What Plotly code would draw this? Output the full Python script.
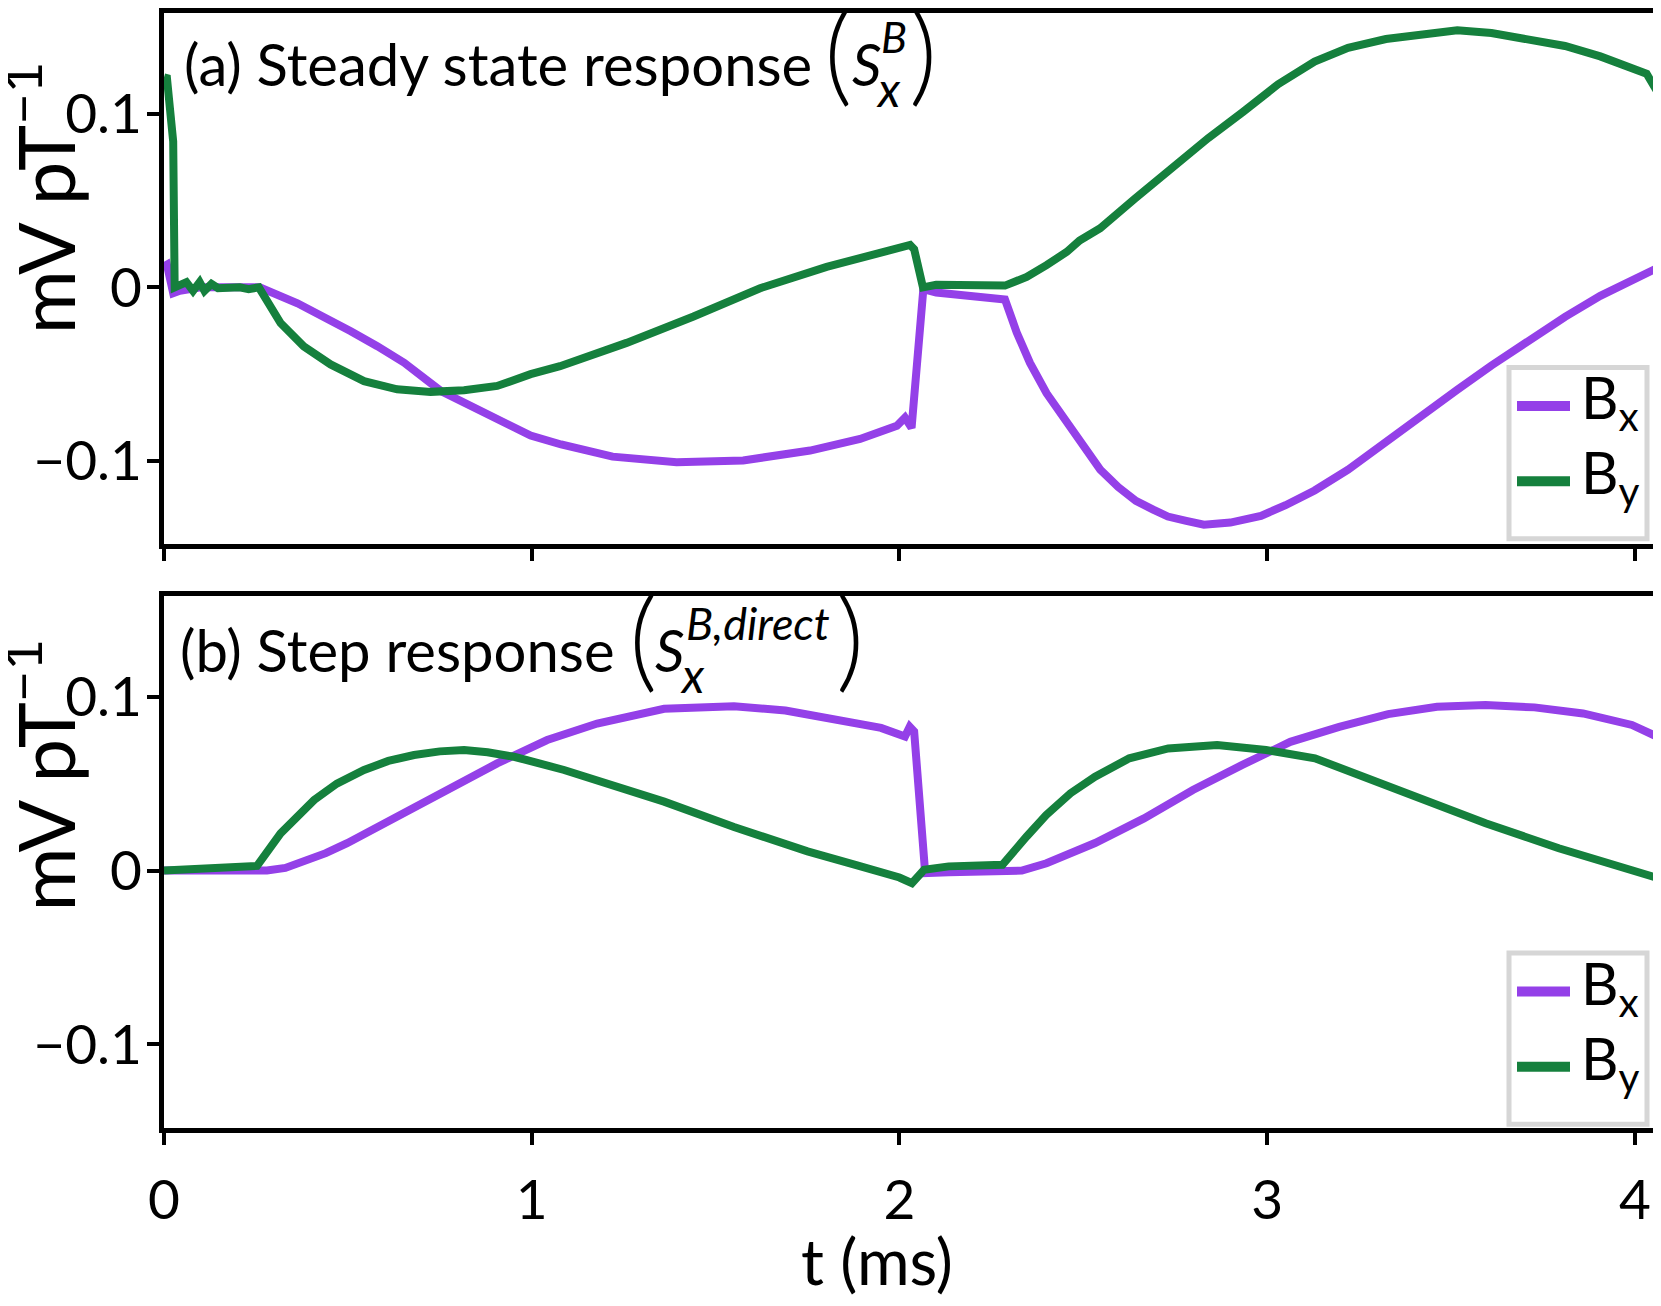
import plotly.graph_objects as go

# time axis (ms) and responses (mV/pT)
t_ss_bx = [0.0, 0.008, 0.025, 0.043, 0.1, 0.2, 0.26, 0.363, 0.435, 0.508, 0.58, 0.653, 0.753, 0.816,
           0.907, 0.997, 1.08, 1.22, 1.394, 1.575, 1.757, 1.893, 1.993, 2.015, 2.033, 2.065, 2.1, 2.15,
           2.2, 2.287, 2.319, 2.355, 2.4, 2.455, 2.49, 2.546, 2.595, 2.643, 2.69, 2.73, 2.78, 2.828, 2.9,
           2.983, 3.05, 3.129, 3.22, 3.323, 3.42, 3.517, 3.61, 3.712, 3.81, 3.906, 3.97, 4.042, 4.06]
ss_bx = [0.012, 0.013, -0.0034, -0.002, 0.0, 0.0, 0.0, -0.0092, -0.0168, -0.0253, -0.0339, -0.0434,
         -0.0597, -0.0665, -0.076, -0.0854, -0.0905, -0.0975, -0.1007, -0.0997, -0.094, -0.0873, -0.0797,
         -0.075, -0.081, -0.001, -0.003, -0.004, -0.005, -0.007, -0.026, -0.0435, -0.061, -0.078, -0.088,
         -0.105, -0.115, -0.123, -0.128, -0.132, -0.1345, -0.1367, -0.1355, -0.1316, -0.1255, -0.117,
         -0.105, -0.0887, -0.074, -0.059, -0.045, -0.0305, -0.017, -0.0049, 0.002, 0.0094, 0.011]

t_ss_by = [0.0, 0.008, 0.025, 0.029, 0.061, 0.079, 0.097, 0.11, 0.129, 0.147, 0.206, 0.23, 0.258, 0.29,
           0.317, 0.38, 0.453, 0.544, 0.634, 0.725, 0.816, 0.906, 0.997, 1.077, 1.258, 1.44, 1.621, 1.802,
           1.983, 2.015, 2.029, 2.04, 2.064, 2.1, 2.2, 2.287, 2.32, 2.346, 2.4, 2.455, 2.49, 2.546, 2.64,
           2.74, 2.84, 2.934, 3.03, 3.129, 3.22, 3.323, 3.42, 3.517, 3.61, 3.712, 3.81, 3.906, 3.97, 4.032,
           4.06]
ss_by = [0.121, 0.1205, 0.084, 0.0, 0.003, -0.002, 0.003, -0.002, 0.002, -0.0005, 0.0, -0.001, 0.0,
         -0.011, -0.0206, -0.034, -0.0444, -0.054, -0.0587, -0.0602, -0.0593, -0.0568, -0.05, -0.0454,
         -0.032, -0.0168, -0.0005, 0.0118, 0.0214, 0.023, 0.0244, 0.022, 0.0, 0.0015, 0.0015, 0.001,
         0.0038, 0.006, 0.0128, 0.0204, 0.027, 0.034, 0.051, 0.0686, 0.086, 0.101, 0.117, 0.13, 0.138,
         0.143, 0.146, 0.148, 0.1465, 0.143, 0.139, 0.133, 0.128, 0.123, 0.113]

t_st_bx = [0.0, 0.1, 0.2, 0.28, 0.33, 0.38, 0.44, 0.498, 0.634, 0.77, 0.906, 1.042, 1.178, 1.36, 1.45,
           1.55, 1.69, 1.82, 1.95, 2.015, 2.028, 2.04, 2.07, 2.134, 2.25, 2.333, 2.4, 2.532, 2.665, 2.798,
           2.931, 3.063, 3.196, 3.329, 3.462, 3.594, 3.727, 3.859, 3.992, 4.06]
st_bx = [0.0, 0.0, 0.0, 0.0, 0.0015, 0.0052, 0.010, 0.0157, 0.031, 0.0473, 0.0616, 0.075, 0.0845, 0.093,
         0.094, 0.0945, 0.092, 0.087, 0.082, 0.077, 0.0827, 0.08, -0.0015, -0.001, 0.0, 0.0, 0.0042,
         0.0158, 0.03, 0.0463, 0.0606, 0.074, 0.0826, 0.0899, 0.0942, 0.0951, 0.0938, 0.0903, 0.0837, 0.077]

t_st_by = [0.0, 0.1, 0.253, 0.317, 0.36, 0.408, 0.47, 0.544, 0.61, 0.68, 0.75, 0.816, 0.88, 0.952, 1.088,
           1.224, 1.36, 1.55, 1.75, 1.885, 2.0, 2.034, 2.067, 2.134, 2.28, 2.346, 2.399, 2.465, 2.532,
           2.625, 2.731, 2.864, 2.997, 3.13, 3.262, 3.395, 3.594, 3.793, 3.925, 4.06]
st_by = [0.0, 0.0008, 0.0027, 0.0214, 0.031, 0.0405, 0.050, 0.0578, 0.063, 0.0664, 0.0685, 0.0693,
         0.068, 0.0654, 0.0578, 0.0492, 0.0396, 0.025, 0.011, 0.003, -0.004, -0.0073, 0.0004, 0.0024,
         0.0033, 0.0196, 0.0319, 0.0444, 0.054, 0.0645, 0.0702, 0.0721, 0.0693, 0.0645, 0.054, 0.0425,
         0.0272, 0.0128, 0.0042, -0.0042]

x_ticks = [0, 1, 2, 3, 4]
y_ticks = [-0.1, 0, 0.1]
y_ticktext = ['\u22120.1', '0', '0.1']

PURPLE = '#9440e8'
GREEN = '#15803d'
FONT = 'Lato'

# the page body has an 8px margin, so the figure is made 8px smaller and
# all positions below are given in page pixels
OFF = 8
W, H = 1661 - OFF, 1306 - OFF
PLOT_L, PLOT_R, PLOT_T, PLOT_B = 164, 1654, OFF, 1128
L, R, T, B = PLOT_L - OFF, W - (PLOT_R - OFF), 0, H - (PLOT_B - OFF)


def px(x):
    return (x - PLOT_L) / (PLOT_R - PLOT_L)


def py(y):
    return (PLOT_B - y) / (PLOT_B - PLOT_T)


def text(x, y, s, size, anchor='left', angle=0, weight=400):
    return dict(x=px(x), y=py(y), xref='paper', yref='paper', text=s, showarrow=False,
                xanchor=anchor, yanchor='middle', textangle=angle,
                font=dict(family=FONT, size=size, color='black', weight=weight))


def main():
    fig = go.Figure()
    fig.add_trace(go.Scatter(x=t_ss_bx, y=ss_bx, mode='lines', line=dict(color=PURPLE, width=8),
                             xaxis='x', yaxis='y'))
    fig.add_trace(go.Scatter(x=t_ss_by, y=ss_by, mode='lines', line=dict(color=GREEN, width=8),
                             xaxis='x', yaxis='y'))
    fig.add_trace(go.Scatter(x=t_st_bx, y=st_bx, mode='lines', line=dict(color=PURPLE, width=8),
                             xaxis='x2', yaxis='y2'))
    fig.add_trace(go.Scatter(x=t_st_by, y=st_by, mode='lines', line=dict(color=GREEN, width=8),
                             xaxis='x2', yaxis='y2'))

    axis_common = dict(showline=True, mirror=True, linecolor='black', linewidth=5, showgrid=False,
                       zeroline=False, ticks='outside', ticklen=12, tickwidth=4, tickcolor='black',
                       tickfont=dict(family=FONT, size=55, color='black'))
    top_dom = [py(541.7), 1.0]
    bot_dom = [0.0, py(593.3)]
    fig.update_layout(
        width=W, height=H, margin=dict(l=L, r=R, t=T, b=B),
        plot_bgcolor='white', paper_bgcolor='white', showlegend=False,
        xaxis=dict(axis_common, range=[0, 4.052], tickvals=x_ticks, showticklabels=False, anchor='y'),
        yaxis=dict(axis_common, range=[-0.148, 0.158], domain=top_dom, tickvals=y_ticks,
                   ticktext=y_ticktext, anchor='x', ticklabelstandoff=-6),
        xaxis2=dict(axis_common, range=[0, 4.052], tickvals=x_ticks, anchor='y2', matches='x',
                    ticklabelstandoff=8),
        yaxis2=dict(axis_common, range=[-0.148, 0.158], domain=bot_dom, tickvals=y_ticks,
                    ticktext=y_ticktext, anchor='x2', ticklabelstandoff=-6),
    )

    ann = []
    shapes = []
    panels = [
        (0, 182, '(a) Steady state response', 'B', 43, 822, 850, 879, 874, 907, 194),
        (588.3, 178, '(b) Step response', 'B,direct', 45, 627, 653, 684, 678, 834, 774 - 588.3),
    ]
    for off, tx, label, sup, sup_size, open_x, s_x, sup_x, sub_x, close_x, ylab_y in panels:
        ann.append(text(tx, 59 + off, label, 58))
        ann.append(text(open_x, 44 + off, '(', 110, weight=300))
        ann.append(text(s_x, 59 + off, '<i>S</i>', 58))
        ann.append(text(sup_x, 32 + off, '<i>%s</i>' % sup, sup_size))
        ann.append(text(sub_x, 84 + off, '<i>x</i>', 48))
        ann.append(text(close_x, 44 + off, ')', 110, weight=300))
        # y axis label
        ann.append(text(40, ylab_y + off, 'mV pT<sup>\u22121</sup>', 78, anchor='center', angle=-90))
        # legend box
        shapes.append(dict(type='rect', xref='paper', yref='paper', x0=px(1509), x1=px(1647),
                           y0=py(536 + off), y1=py(364 + off), line=dict(color='#d6d6d6', width=5),
                           fillcolor='rgba(255,255,255,0.8)', layer='above'))
        for yy, col, nm in [(402.7, PURPLE, 'B<sub>x</sub>'), (478.3, GREEN, 'B<sub>y</sub>')]:
            shapes.append(dict(type='line', xref='paper', yref='paper', x0=px(1517), x1=px(1570),
                               y0=py(yy + off), y1=py(yy + off), line=dict(color=col, width=10),
                               layer='above'))
            ann.append(text(1579, yy - 5 + off, nm, 58))

    ann.append(text(877, 1261, 't (ms)', 64, anchor='center'))
    fig.update_layout(annotations=ann, shapes=shapes)
    fig.write_html('out.html')


if __name__ == '__main__':
    main()
